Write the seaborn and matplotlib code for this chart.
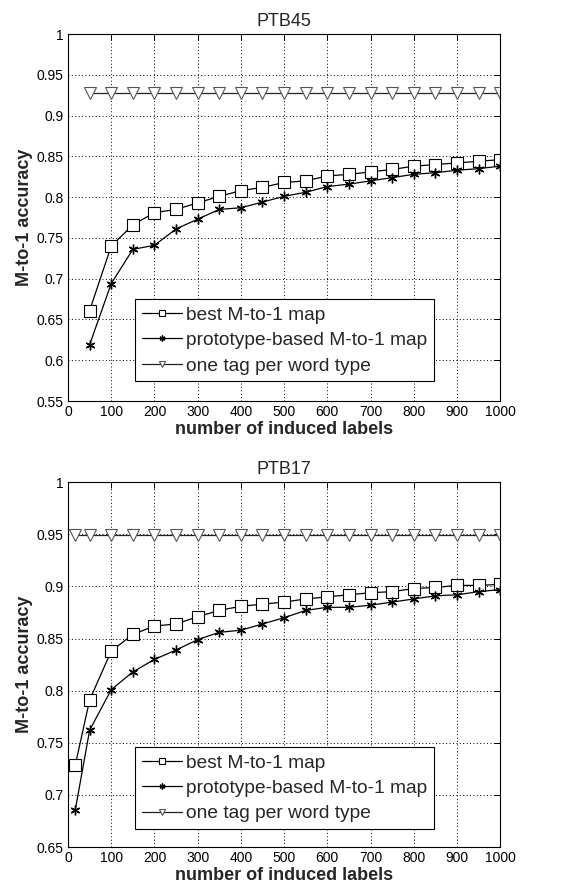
import numpy as np
import pandas as pd
import matplotlib
matplotlib.use("Agg")
import matplotlib.pyplot as plt
import seaborn as sns
from matplotlib.ticker import FuncFormatter, MultipleLocator

# PTB45 data
ptb45_labels = [50, 100, 150, 200, 250, 300, 350, 400, 450, 500,
                550, 600, 650, 700, 750, 800, 850, 900, 950, 1000]
ptb45_best = [0.661, 0.740, 0.766, 0.781, 0.785, 0.793, 0.801, 0.808, 0.812, 0.818,
              0.820, 0.826, 0.828, 0.831, 0.834, 0.838, 0.840, 0.842, 0.844, 0.846]
ptb45_proto = [0.619, 0.694, 0.736, 0.741, 0.761, 0.773, 0.785, 0.787, 0.794, 0.801,
               0.806, 0.813, 0.816, 0.820, 0.824, 0.828, 0.830, 0.833, 0.835, 0.838]
ptb45_onetag = [0.928] * 20

# PTB17 data
ptb17_labels = [17, 50, 100, 150, 200, 250, 300, 350, 400, 450, 500,
                550, 600, 650, 700, 750, 800, 850, 900, 950, 1000]
ptb17_best = [0.729, 0.791, 0.838, 0.854, 0.862, 0.864, 0.871, 0.877, 0.881, 0.883, 0.885,
              0.888, 0.890, 0.892, 0.894, 0.895, 0.898, 0.899, 0.901, 0.901, 0.902]
ptb17_proto = [0.686, 0.762, 0.801, 0.818, 0.830, 0.839, 0.849, 0.856, 0.858, 0.864, 0.870,
               0.877, 0.880, 0.880, 0.882, 0.885, 0.888, 0.891, 0.892, 0.895, 0.897]
ptb17_onetag = [0.949] * 21

series_names = ["best M-to-1 map", "prototype-based M-to-1 map", "one tag per word type"]

sns.set_style("white")
plt.rcParams["font.family"] = ["Liberation Sans", "DejaVu Sans"]

fig = plt.figure(figsize=(5.62, 8.92), dpi=100)
ax_top = fig.add_axes([0.121, 0.5504, 0.769, 0.4114])
ax_bot = fig.add_axes([0.121, 0.0504, 0.769, 0.409])

asterisk = (6, 2, 0)


def draw_panel(ax, x, best, proto, onetag, title, ylo, legend_y):
    sns.lineplot(x=x, y=best, ax=ax, color="black", lw=0.9, marker="s", ms=8,
                 mfc="white", mec="black", mew=0.8, label=series_names[0])
    sns.lineplot(x=x, y=proto, ax=ax, color="black", lw=0.9, marker=asterisk, ms=7,
                 mec="black", mew=1.0, label=series_names[1])
    sns.lineplot(x=x, y=onetag, ax=ax, color="#222222", lw=0.9, marker="v", ms=8,
                 mfc="white", mec="#555555", mew=0.8, label=series_names[2])
    ax.set_xlim(0, 1000)
    ax.set_ylim(ylo, 1.0)
    ax.xaxis.set_major_locator(MultipleLocator(100))
    ax.yaxis.set_major_locator(MultipleLocator(0.05))
    ax.yaxis.set_major_formatter(FuncFormatter(lambda v, p: f"{v:g}"))
    ax.grid(True, color="black", linestyle=(0, (1, 2.5)), lw=0.7)
    ax.tick_params(direction="in", top=True, right=True, length=4, width=0.7,
                   labelsize=10, colors="black", pad=3)
    for s in ax.spines.values():
        s.set_color("black")
        s.set_linewidth(0.8)
    ax.set_title(title, fontsize=13, pad=6)
    ax.set_xlabel("number of induced labels", fontsize=13, fontweight="bold", labelpad=1)
    ax.set_ylabel("M-to-1 accuracy", fontsize=13, fontweight="bold", labelpad=3)
    leg = ax.legend(loc="lower left", bbox_to_anchor=(0.155, legend_y), fontsize=13.8,
                    frameon=True, fancybox=False, edgecolor="black", framealpha=1,
                    handlelength=2.1, handletextpad=0.2, borderpad=0.35,
                    labelspacing=0.42, markerscale=0.6, borderaxespad=0)
    leg.get_frame().set_linewidth(0.8)


draw_panel(ax_top, ptb45_labels, ptb45_best, ptb45_proto, ptb45_onetag, "PTB45", 0.55, 0.054)
draw_panel(ax_bot, ptb17_labels, ptb17_best, ptb17_proto, ptb17_onetag, "PTB17", 0.65, 0.049)

fig.savefig("out.png", dpi=100)
